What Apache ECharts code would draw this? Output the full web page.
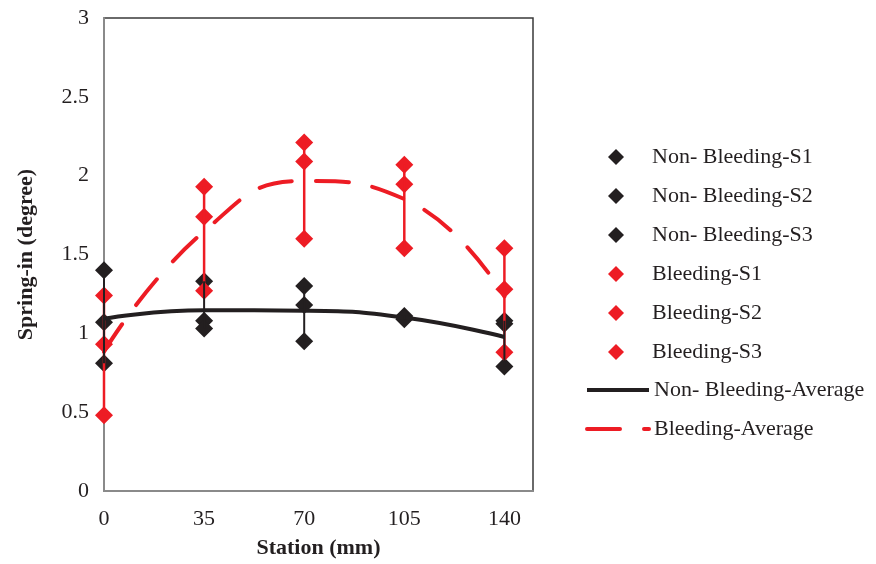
<!DOCTYPE html>
<html>
<head>
<meta charset="utf-8">
<title>Spring-in by station</title>
<script src="https://cdn.jsdelivr.net/npm/echarts@6/dist/echarts.min.js"></script>
<style>
  html, body { margin: 0; padding: 0; background: #fff; }
  #chart { width: 876px; height: 564px; }
</style>
</head>
<body>
<div id="chart"></div>
<script>
// Measurement stations along the part (mm)
const stations = [0, 35, 70, 105, 140];
const xTicks = [0, 35, 70, 105, 140];
const yTicks = [0, 0.5, 1, 1.5, 2, 2.5, 3];

// Spring-in per specimen (degree)
const nonBleedingS1 = [1.40, 1.33, 1.30, 1.11, 1.06];
const nonBleedingS2 = [1.07, 1.08, 1.18, 1.10, 1.08];
const nonBleedingS3 = [0.81, 1.03, 0.95, 1.09, 0.79];
const bleedingS1 = [1.24, 1.93, 2.21, 2.07, 1.54];
const bleedingS2 = [0.93, 1.74, 2.09, 1.945, 1.28];
const bleedingS3 = [0.48, 1.27, 1.60, 1.54, 0.88];

const BLACK = '#231f20';
const RED = '#ed1c24';
const FONT = '"Liberation Serif", "Times New Roman", serif';

const groups = {
  nb: [nonBleedingS1, nonBleedingS2, nonBleedingS3],
  b: [bleedingS1, bleedingS2, bleedingS3]
};

function mean(set, i) { return set.reduce((s, a) => s + a[i], 0) / set.length; }
function pairs(arr) { return stations.map((x, i) => [x, arr[i]]); }
function averages(set) { return stations.map((x, i) => [x, mean(set, i)]); }
function ranges(set) {
  return stations.map((x, i) => {
    const v = set.map(a => a[i]);
    return [x, Math.min(...v), Math.max(...v)];
  });
}

// vertical min-max bar at each station
function rangeSeries(name, set, color, width, z) {
  return {
    name: name,
    type: 'custom',
    z: z,
    silent: true,
    data: ranges(set),
    encode: { x: 0, y: [1, 2] },
    renderItem: function (params, api) {
      const lo = api.coord([api.value(0), api.value(1)]);
      const hi = api.coord([api.value(0), api.value(2)]);
      return {
        type: 'line',
        shape: { x1: lo[0], y1: lo[1], x2: hi[0], y2: hi[1] },
        style: { stroke: color, lineWidth: width }
      };
    }
  };
}

function scatter(name, arr, color, z) {
  return {
    name: name,
    type: 'scatter',
    symbol: 'diamond',
    symbolSize: 18,
    symbolKeepAspect: true,
    z: z,
    itemStyle: { color: color, opacity: 1 },
    data: pairs(arr)
  };
}

const legendText = { fontFamily: FONT, fontSize: 22, color: BLACK, lineHeight: 22 };

const chart = echarts.init(document.getElementById('chart'), null, { renderer: 'canvas' });

chart.setOption({
  animation: false,
  backgroundColor: '#ffffff',
  textStyle: { fontFamily: FONT, color: BLACK },
  grid: {
    left: 104, right: 343, top: 18, bottom: 73,
    show: true, borderColor: '#3a3a3a', borderWidth: 1.5, backgroundColor: 'transparent'
  },
  legend: [
    {
      // specimen markers
      orient: 'vertical',
      left: 603,
      top: 141,
      itemWidth: 16,
      itemHeight: 16,
      itemGap: 17,
      icon: 'diamond',
      textStyle: Object.assign({ padding: [0, 0, 0, 23] }, legendText),
      data: [
        'Non- Bleeding-S1', 'Non- Bleeding-S2', 'Non- Bleeding-S3',
        'Bleeding-S1', 'Bleeding-S2', 'Bleeding-S3'
      ]
    },
    {
      // average curves
      orient: 'vertical',
      left: 580,
      top: 374,
      itemWidth: 62,
      itemHeight: 14,
      itemGap: 17,
      itemStyle: { opacity: 0 },
      lineStyle: { width: 4 },
      textStyle: legendText,
      data: ['Non- Bleeding-Average', 'Bleeding-Average']
    }
  ],
  xAxis: {
    type: 'value',
    min: 0, max: 150, interval: 35,
    name: 'Station (mm)',
    nameLocation: 'middle',
    nameGap: 46,
    nameTextStyle: { fontFamily: FONT, fontSize: 22, fontWeight: 'bold', color: BLACK },
    axisLine: { lineStyle: { color: '#8a8a8a', width: 2 } },
    axisTick: { show: false },
    splitLine: { show: false },
    axisLabel: {
      fontFamily: FONT, fontSize: 22, color: BLACK, margin: 17,
      showMaxLabel: false,
      formatter: v => (xTicks.indexOf(v) >= 0 ? String(v) : '')
    }
  },
  yAxis: {
    type: 'value',
    min: 0, max: 3, interval: 0.5,
    name: 'Spring-in (degree)',
    nameLocation: 'middle',
    nameRotate: 90,
    nameGap: 67,
    nameTextStyle: { fontFamily: FONT, fontSize: 22, fontWeight: 'bold', color: BLACK },
    axisLine: { show: true, lineStyle: { color: '#8a8a8a', width: 2 } },
    axisTick: { show: false },
    splitLine: { show: false },
    axisLabel: {
      fontFamily: FONT, fontSize: 22, color: BLACK, margin: 15,
      formatter: v => (yTicks.indexOf(v) >= 0 ? String(v) : '')
    }
  },
  series: [
    scatter('Non- Bleeding-S1', nonBleedingS1, BLACK, 2),
    scatter('Non- Bleeding-S2', nonBleedingS2, BLACK, 2),
    scatter('Non- Bleeding-S3', nonBleedingS3, BLACK, 2),
    scatter('Bleeding-S1', bleedingS1, RED, 3),
    scatter('Bleeding-S2', bleedingS2, RED, 3),
    scatter('Bleeding-S3', bleedingS3, RED, 3),
    rangeSeries('Bleeding-Range', groups.b, RED, 2.5, 4),
    {
      name: 'Non- Bleeding-Average',
      type: 'line',
      smooth: 0.5,
      symbol: 'none',
      z: 5,
      lineStyle: { color: BLACK, width: 4 },
      itemStyle: { color: BLACK },
      data: averages(groups.nb)
    },
    {
      name: 'Bleeding-Average',
      type: 'line',
      smooth: 0.5,
      symbol: 'none',
      z: 5,
      lineStyle: { color: RED, width: 4, type: [33, 24], cap: 'round' },
      itemStyle: { color: RED },
      data: averages(groups.b)
    },
    rangeSeries('Non- Bleeding-Range', groups.nb, BLACK, 2, 6)
  ]
});
</script>
</body>
</html>
